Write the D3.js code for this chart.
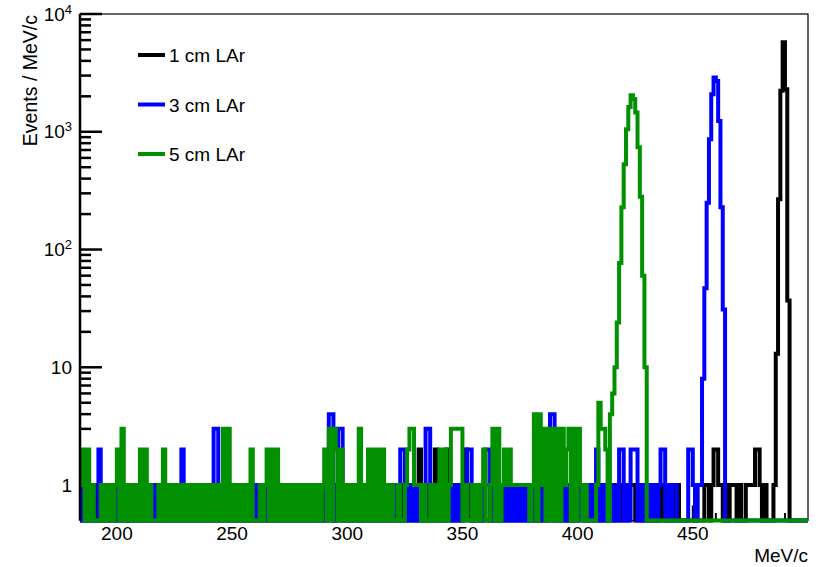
<!DOCTYPE html>
<html>
<head>
<meta charset="utf-8">
<script src="https://cdn.jsdelivr.net/npm/d3@7"></script>
<style>
  body { margin: 0; background: #fff; }
  svg { display: block; font-family: "Liberation Sans", Arial, Helvetica, sans-serif; }
</style>
</head>
<body>
<svg id="chart" width="818" height="567"></svg>
<script>
// momentum spectra, 1 MeV/c bins starting at 184 MeV/c
const binLow = 184;
const xDomain = [184, 500];
const yDomain = [0.5, 10000];
const xTickValues = [200, 250, 300, 350, 400, 450];
const yTickValues = [1, 10, 100, 1000, 10000];
const yTickLabels = [["1", ""], ["10", ""], ["10", "2"], ["10", "3"], ["10", "4"]];
const seriesNames = ["1 cm LAr", "3 cm LAr", "5 cm LAr"];
const seriesColors = ["#000000", "#0000ff", "#009000"];

const counts1cm = [
  0,1,0,0,1,0,1,0,0,1,  0,1,0,0,1,0,0,1,0,1,
  0,0,1,0,1,0,0,1,0,1,  0,1,0,0,1,0,1,0,0,1,
  0,0,1,0,1,0,0,1,0,0,  1,0,1,0,0,1,0,1,0,0,
  1,0,0,1,0,1,0,0,1,0,  1,0,0,1,0,1,0,1,0,0,
  1,0,1,0,0,1,0,0,1,0,  1,0,0,1,0,1,0,0,1,0,
  0,1,0,1,0,0,1,0,1,0,  1,0,1,0,0,1,0,1,0,0,
  1,0,1,0,1,0,0,1,0,1,  0,0,1,0,1,0,1,0,0,1,
  0,1,0,1,0,1,0,2,1,0,  1,0,1,0,2,1,0,1,0,2,
  1,0,1,0,1,0,1,2,1,0,  1,0,0,1,0,1,0,0,1,0,
  1,0,1,0,0,1,0,1,0,1,  0,1,0,0,1,0,1,0,1,0,
  1,0,0,1,0,1,0,1,0,0,  1,0,1,0,1,0,1,1,1,0,
  1,1,0,1,0,1,0,1,0,0,  1,0,1,0,0,1,0,0,1,1,
  1,0,0,1,0,0,1,0,0,1,  0,0,1,0,0,1,0,0,1,1,
  0,0,0,0,0,0,0,1,0,0,  0,1,1,0,1,2,2,1,1,0,
  1,0,1,1,1,0,1,0,0,1,  1,1,1,2,2,1,0,1,0,0,
  0,1,13,267,2225,5745,2300,37,0,0,
  0,0,0,0,0,0
];

const counts3cm = [
  0,1,0,1,0,1,0,0,2,0,  1,0,1,0,1,0,1,0,1,0,
  1,0,1,0,1,0,1,0,1,0,  1,0,1,0,1,0,1,0,1,0,
  1,0,1,0,2,0,1,0,1,0,  1,0,1,0,1,0,1,0,3,3,
  0,1,0,1,0,1,0,1,0,1,  0,1,0,1,0,1,0,1,0,1,
  0,1,0,1,0,1,0,1,0,1,  0,1,0,1,0,1,0,1,0,1,
  0,1,0,1,0,1,0,1,4,4,  0,1,3,3,0,1,0,1,0,1,
  0,1,0,1,0,1,0,1,0,1,  0,1,0,1,0,1,0,1,0,2,
  2,0,1,0,1,0,1,0,1,0,  3,3,0,1,0,1,0,1,0,1,
  0,1,0,1,0,1,0,1,2,2,  0,1,0,1,0,1,2,2,0,1,
  0,1,0,1,0,1,0,1,0,1,  0,1,0,1,0,1,0,1,0,1,
  0,1,0,1,4,4,0,1,0,1,  0,1,0,1,0,1,0,1,0,1,
  0,1,0,1,2,0,1,0,1,0,  1,0,1,0,2,2,0,1,0,2,
  2,2,0,1,0,1,0,1,0,1,  0,1,2,2,0,1,0,1,1,0,
  0,0,0,0,2,2,1,0,1,1,  8,47,250,864,2085,2890,2700,1236,228,31,
  0,0,0,0,0,0,0,0,0,0,  0,0,0,0,0,0,0,0,0,0,
  0,0,0,0,0,0,0,0,0,0,
  0,0,0,0,0,0
];

const counts5cm = [
  1,2,0,2,0,1,0,0,0,1,  0,1,0,1,0,1,2,0,3,0,
  1,0,1,0,1,0,2,0,2,0,  1,0,0,0,1,0,2,0,1,0,
  1,0,1,0,1,0,1,0,1,0,  1,0,1,0,1,0,1,0,1,0,
  1,0,3,0,3,0,1,0,1,0,  1,0,1,0,2,0,0,0,1,0,
  1,2,0,2,0,2,0,1,0,1,  0,1,0,1,0,1,0,1,0,1,
  0,1,0,1,0,1,2,0,3,0,  3,2,0,2,0,1,0,1,0,1,
  0,3,0,1,0,2,0,2,0,2,  0,2,0,1,0,1,0,0,1,0,
  0,1,2,3,3,1,1,1,0,1,  0,0,1,0,1,0,2,0,2,0,
  1,3,3,3,3,3,0,1,0,0,  1,0,1,0,1,2,0,0,1,3,
  0,3,0,1,2,1,2,1,1,1,  1,1,1,1,1,0,1,4,0,4,
  1,3,0,3,0,3,0,3,0,3,  1,2,3,0,3,0,3,1,0,1,
  0,0,0,0,1,5,3,3,2,0,  4,6,10,24,77,228,530,1050,1620,2040,
  1900,1460,740,280,60,10,0,0,0,0,
  0,0,0,0,0,0,0,0,0,0,  0,0,0,0,0,0,0,0,0,0,
  0,0,0,0,0,0,0,0,0,0,  0,0,0,0,0,0,0,0,0,0,
  0,0,0,0,0,0,0,0,0,0,  0,0,0,0,0,0,0,0,0,0,
  0,0,0,0,0,0
];

const seriesCounts = [counts1cm, counts3cm, counts5cm];

const W = 818, H = 567;
const frame = { left: 80, right: 808, top: 14, bottom: 520.5 };

const svg = d3.select("#chart");

const x = d3.scaleLinear().domain(xDomain).range([frame.left, frame.right]);
const y = d3.scaleLog().domain(yDomain).range([frame.bottom, frame.top]);

// frame box
svg.append("rect")
  .attr("x", frame.left).attr("y", frame.top)
  .attr("width", frame.right - frame.left)
  .attr("height", frame.bottom - frame.top)
  .attr("fill", "none").attr("stroke", "#000").attr("stroke-width", 1.2);

// x ticks (inside the frame, mostly hidden by the histograms)
const xMinor = d3.range(190, 500, 10);
svg.append("g").selectAll("line")
  .data(xMinor)
  .join("line")
  .attr("x1", d => x(d)).attr("x2", d => x(d))
  .attr("y1", frame.bottom)
  .attr("y2", d => frame.bottom - (d % 50 === 0 ? 15 : 7.5))
  .attr("stroke", "#000").attr("stroke-width", 2);

// y ticks, log scale: majors per decade, minors 2..9
const yMinor = [];
for (let k = -1; k < 4; k++) {
  for (let m = 2; m <= 9; m++) {
    const v = m * Math.pow(10, k);
    if (v >= yDomain[0] && v <= yDomain[1]) yMinor.push(v);
  }
}
const yAxis = svg.append("g");
yAxis.selectAll("line.minor")
  .data(yMinor)
  .join("line")
  .attr("class", "minor")
  .attr("x1", frame.left).attr("x2", frame.left + 11)
  .attr("y1", d => y(d)).attr("y2", d => y(d))
  .attr("stroke", "#000").attr("stroke-width", 2.5);
yAxis.selectAll("line.major")
  .data(yTickValues)
  .join("line")
  .attr("class", "major")
  .attr("x1", frame.left).attr("x2", frame.left + 22)
  .attr("y1", d => y(d)).attr("y2", d => y(d))
  .attr("stroke", "#000").attr("stroke-width", 2.5);

// histograms, drawn as thick step outlines
svg.append("defs").append("clipPath").attr("id", "plot-clip")
  .append("rect")
  .attr("x", frame.left).attr("y", 0)
  .attr("width", frame.right - frame.left).attr("height", H);

const stepLine = d3.line()
  .x(d => x(d[0]))
  .y(d => y(Math.max(d[1], yDomain[0])))
  .curve(d3.curveStepAfter);

const hist = svg.append("g").attr("clip-path", "url(#plot-clip)");
seriesCounts.forEach((counts, s) => {
  const pts = counts.map((c, i) => [binLow + i, c]);
  pts.push([binLow + counts.length, counts[counts.length - 1]]);
  hist.append("path")
    .attr("d", stepLine(pts))
    .attr("fill", "none")
    .attr("stroke", seriesColors[s])
    .attr("stroke-width", 4)
    .attr("stroke-linejoin", "miter");
});

// left axis line on top
svg.append("line")
  .attr("x1", frame.left).attr("x2", frame.left)
  .attr("y1", frame.top).attr("y2", frame.bottom)
  .attr("stroke", "#000").attr("stroke-width", 2.5);

// y tick labels
const yLab = svg.append("g").attr("font-size", 19).attr("fill", "#000");
yTickValues.forEach((v, i) => {
  const t = yLab.append("text")
    .attr("x", 72).attr("y", y(v) + 6.5)
    .attr("text-anchor", "end");
  t.append("tspan").text(yTickLabels[i][0]);
  if (yTickLabels[i][1]) {
    t.append("tspan").attr("dy", -7).attr("font-size", 13).text(yTickLabels[i][1]);
  }
});

// x tick labels
svg.append("g").attr("font-size", 19)
  .selectAll("text")
  .data(xTickValues)
  .join("text")
  .attr("x", d => x(d)).attr("y", 540)
  .attr("text-anchor", "middle")
  .text(d => d);

// axis titles
svg.append("text")
  .attr("x", frame.right).attr("y", 562)
  .attr("text-anchor", "end").attr("font-size", 19)
  .text("MeV/c");

svg.append("text")
  .attr("transform", `translate(36.5,${frame.top + 1}) rotate(-90)`)
  .attr("text-anchor", "end").attr("font-size", 19.5)
  .text("Events / MeV/c");

// legend
const legendY = [55, 104.5, 154];
const legend = svg.append("g");
seriesNames.forEach((name, i) => {
  legend.append("line")
    .attr("x1", 138).attr("x2", 165)
    .attr("y1", legendY[i]).attr("y2", legendY[i])
    .attr("stroke", seriesColors[i]).attr("stroke-width", 4);
  legend.append("text")
    .attr("x", 169).attr("y", legendY[i] + 7)
    .attr("font-size", 19)
    .text(name);
});
</script>
</body>
</html>
